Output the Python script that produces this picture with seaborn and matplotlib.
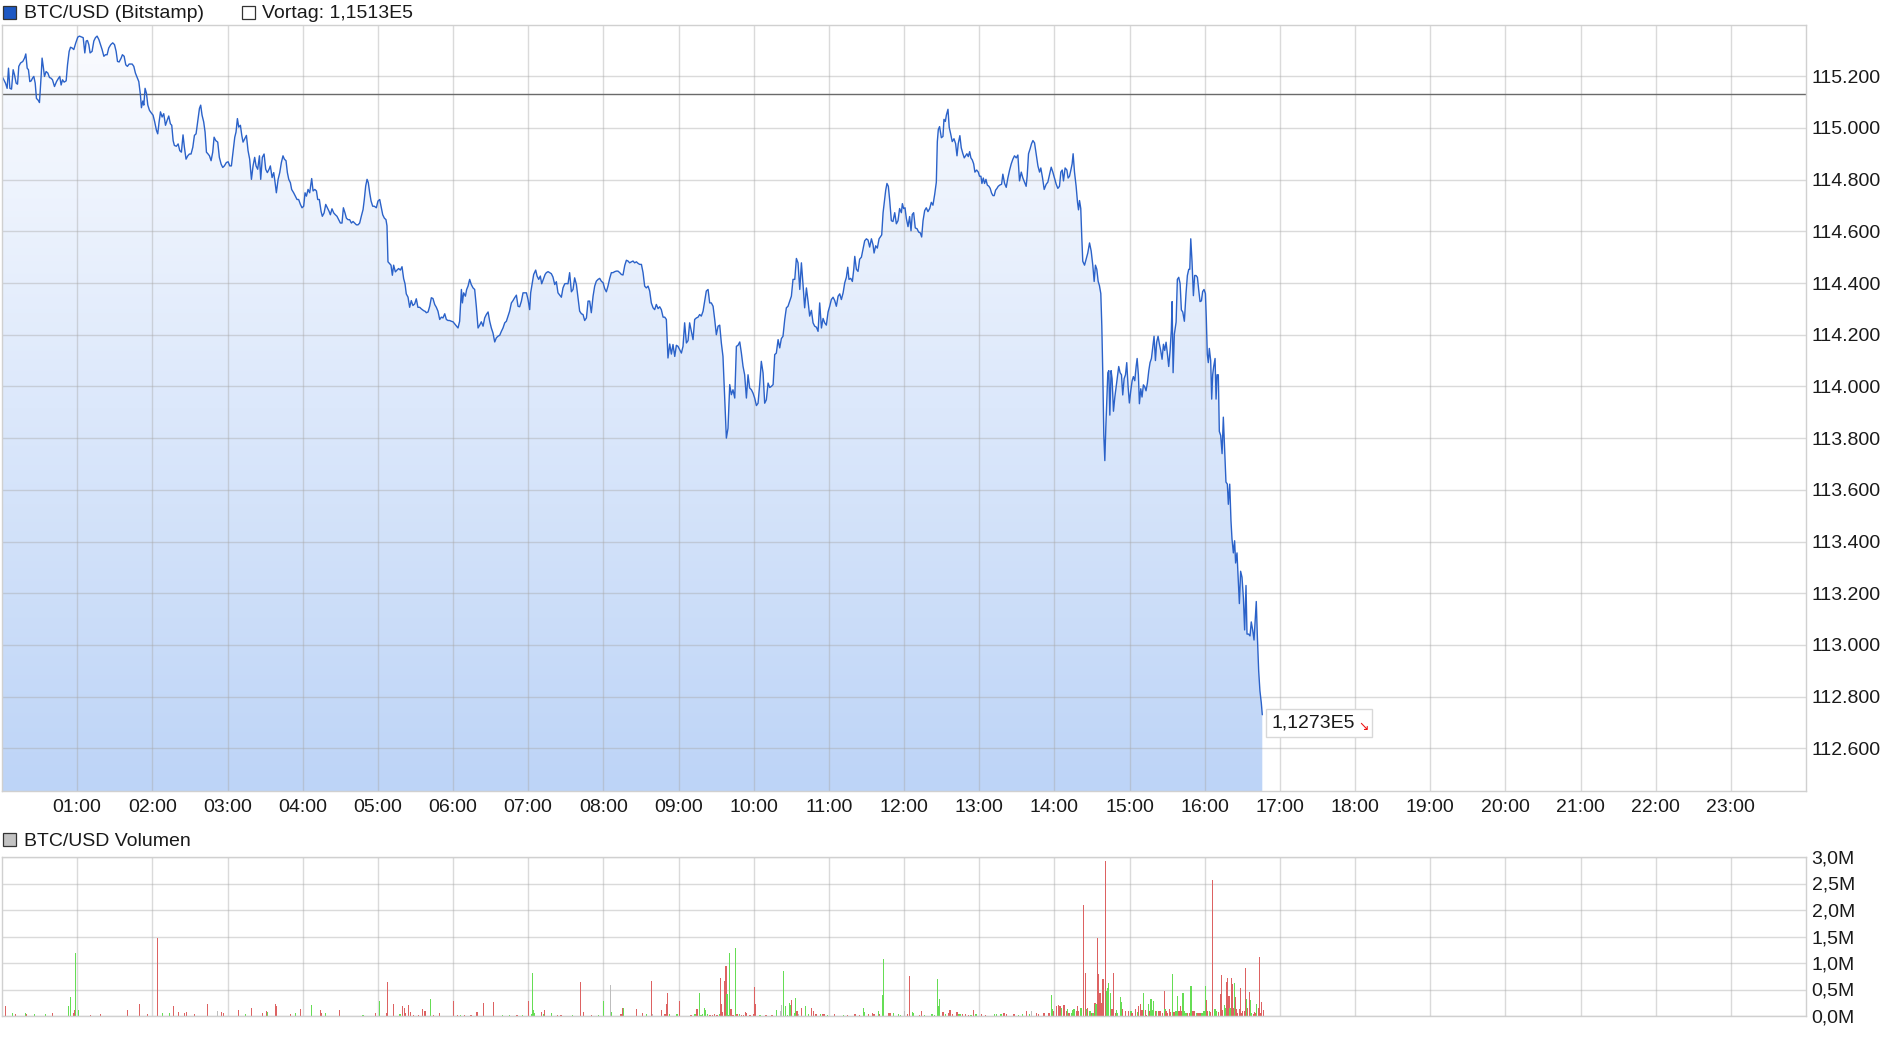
import numpy as np
import pandas as pd
import matplotlib
matplotlib.use("Agg")
import matplotlib.pyplot as plt
import seaborn as sns
from matplotlib.colors import LinearSegmentedColormap
from matplotlib.patches import Rectangle
from matplotlib.transforms import IdentityTransform

# BTC/USD (Bitstamp) intraday, minutes after midnight -> price in USD
btc_ticks = [
    (0.0, 115200), (2.8, 115173), (4.1, 115153), (5.2, 115231), (6.3, 115153), (7.6, 115150),
    (8.9, 115225), (10.0, 115205), (11.3, 115173), (12.4, 115169), (13.4, 115238), (14.8, 115251),
    (16.6, 115257), (18.0, 115270), (19.0, 115286), (20.1, 115231), (21.1, 115225), (22.2, 115179),
    (23.3, 115182), (24.3, 115192), (25.4, 115199), (26.5, 115173), (27.5, 115114), (28.9, 115107),
    (29.9, 115098), (31.3, 115205), (32.0, 115270), (33.1, 115231), (33.9, 115199), (35.2, 115218),
    (36.6, 115212), (37.9, 115195), (39.2, 115192), (40.3, 115186), (41.9, 115160), (43.5, 115179),
    (45.1, 115192), (46.1, 115199), (47.2, 115166), (48.3, 115186), (49.6, 115177), (51.2, 115182),
    (52.3, 115244), (53.6, 115296), (54.7, 115312), (56.0, 115309), (57.3, 115303), (58.9, 115329),
    (60.5, 115351), (61.8, 115355), (63.2, 115352), (64.8, 115349), (66.1, 115290), (67.2, 115336),
    (68.2, 115338), (69.3, 115322), (70.3, 115290), (71.9, 115296), (73.3, 115336), (74.6, 115349),
    (75.9, 115355), (77.3, 115342), (78.6, 115322), (79.9, 115303), (81.3, 115277), (82.6, 115283),
    (83.9, 115283), (85.2, 115309), (86.8, 115322), (88.4, 115329), (89.8, 115322), (91.1, 115296),
    (92.2, 115257), (93.5, 115255), (95.1, 115270), (96.1, 115283), (97.5, 115277), (98.8, 115244),
    (100.1, 115238), (101.5, 115247), (103.9, 115247), (105.2, 115238), (106.5, 115212), (107.9, 115195),
    (109.2, 115179), (110.5, 115127), (111.3, 115078), (112.4, 115104), (113.2, 115088), (114.2, 115153),
    (115.3, 115134), (116.4, 115088), (117.7, 115068), (119.0, 115059), (120.6, 115049), (121.9, 115023),
    (123.3, 114990), (124.3, 114977), (125.4, 115023), (126.5, 115062), (127.8, 115042), (129.1, 115055),
    (130.5, 115010), (131.8, 115029), (133.1, 115046), (134.4, 115016), (135.5, 115010), (136.6, 114951),
    (137.6, 114932), (139.2, 114929), (140.6, 114938), (141.9, 114912), (143.2, 114906), (144.5, 114973),
    (145.6, 114925), (146.9, 114879), (148.3, 114892), (149.6, 114899), (150.9, 114899), (152.3, 114925),
    (153.6, 114971), (154.9, 114977), (156.3, 115029), (157.6, 115075), (158.6, 115088), (159.7, 115049),
    (161.0, 115023), (162.1, 114984), (163.2, 114906), (164.5, 114899), (165.6, 114892), (166.9, 114873),
    (168.2, 114906), (169.3, 114964), (170.6, 114951), (172.2, 114945), (173.5, 114886), (174.9, 114860),
    (176.2, 114847), (177.5, 114853), (179.1, 114866), (180.5, 114869), (181.8, 114853), (183.1, 114853),
    (184.4, 114906), (185.8, 114964), (186.8, 114984), (187.9, 115036), (189.0, 115003), (190.3, 115010),
    (191.4, 114971), (192.4, 114945), (193.8, 114958), (195.1, 114971), (196.4, 114912), (197.7, 114879),
    (199.1, 114801), (200.4, 114853), (201.7, 114886), (202.8, 114853), (204.1, 114840), (205.5, 114892),
    (206.5, 114801), (207.8, 114886), (209.2, 114899), (210.5, 114840), (211.8, 114827), (213.2, 114840),
    (214.2, 114853), (215.6, 114808), (216.9, 114827), (218.0, 114788), (219.0, 114749), (220.4, 114801),
    (221.7, 114827), (223.0, 114866), (224.3, 114892), (225.4, 114879), (226.7, 114873), (227.8, 114827),
    (228.9, 114801), (230.2, 114788), (231.2, 114762), (232.8, 114749), (234.2, 114736), (235.5, 114723),
    (236.8, 114723), (238.2, 114704), (239.5, 114691), (240.8, 114697), (241.9, 114749), (243.0, 114736),
    (244.3, 114762), (245.6, 114749), (247.2, 114804), (248.3, 114756), (249.7, 114762), (251.0, 114756),
    (252.0, 114723), (253.3, 114723), (254.7, 114677), (255.7, 114658), (257.1, 114671), (258.4, 114704),
    (259.7, 114691), (261.1, 114677), (262.1, 114664), (263.4, 114687), (264.8, 114671), (266.1, 114664),
    (267.4, 114658), (268.8, 114645), (270.1, 114632), (271.4, 114632), (272.5, 114691), (273.8, 114671),
    (274.9, 114651), (276.2, 114645), (277.5, 114645), (278.9, 114632), (280.2, 114638), (281.5, 114632),
    (282.9, 114625), (284.2, 114625), (285.5, 114632), (286.8, 114658), (288.2, 114684), (289.2, 114723),
    (290.3, 114775), (291.4, 114801), (292.4, 114788), (293.5, 114749), (294.6, 114717), (295.9, 114697),
    (297.2, 114697), (298.8, 114691), (300.1, 114717), (301.5, 114723), (302.8, 114691), (303.9, 114664),
    (305.2, 114651), (306.5, 114645), (307.3, 114621), (308.1, 114482), (309.2, 114476), (310.5, 114469),
    (311.6, 114430), (312.6, 114469), (314.0, 114443), (315.3, 114450), (316.6, 114456), (318.0, 114450),
    (319.3, 114463), (320.6, 114417), (321.7, 114397), (322.7, 114358), (324.1, 114345), (325.4, 114306),
    (326.7, 114332), (328.0, 114313), (329.4, 114319), (330.7, 114339), (332.0, 114306), (333.4, 114306),
    (334.7, 114300), (336.6, 114293), (337.9, 114290), (338.7, 114285), (340.1, 114288), (341.4, 114310),
    (342.7, 114343), (344.0, 114340), (345.4, 114317), (346.7, 114306), (348.0, 114291), (349.4, 114259),
    (350.7, 114268), (352.0, 114265), (353.4, 114281), (354.7, 114259), (356.0, 114255), (357.3, 114255),
    (358.7, 114252), (360.0, 114250), (361.3, 114242), (362.7, 114233), (364.0, 114226), (365.3, 114252),
    (366.7, 114375), (367.5, 114323), (368.5, 114362), (369.9, 114349), (370.9, 114375), (372.0, 114388),
    (373.3, 114414), (374.6, 114394), (376.0, 114381), (377.3, 114375), (378.6, 114310), (380.0, 114226),
    (381.3, 114237), (382.6, 114250), (384.0, 114233), (385.3, 114265), (386.6, 114278), (388.0, 114288),
    (389.3, 114252), (390.6, 114226), (391.9, 114207), (393.3, 114172), (394.6, 114188), (395.9, 114194),
    (397.3, 114198), (398.6, 114213), (399.9, 114226), (401.3, 114246), (402.6, 114252), (403.9, 114272),
    (405.2, 114291), (406.6, 114323), (407.9, 114332), (409.2, 114343), (410.6, 114353), (411.9, 114310),
    (413.2, 114308), (414.6, 114330), (415.9, 114362), (417.2, 114362), (418.6, 114362), (419.9, 114336),
    (421.2, 114297), (422.0, 114362), (423.3, 114401), (424.4, 114433), (426.0, 114450), (427.1, 114427),
    (428.4, 114414), (429.7, 114427), (430.8, 114397), (432.1, 114414), (433.5, 114433), (434.5, 114440),
    (435.9, 114444), (437.2, 114440), (438.5, 114436), (439.8, 114423), (441.2, 114394), (442.5, 114405),
    (443.8, 114362), (445.2, 114353), (446.5, 114345), (447.8, 114381), (449.2, 114397), (450.5, 114398),
    (451.8, 114397), (453.1, 114440), (454.5, 114366), (455.8, 114375), (457.1, 114420), (458.5, 114394),
    (459.8, 114343), (461.1, 114291), (462.5, 114281), (463.8, 114278), (465.1, 114255), (466.5, 114265),
    (467.8, 114330), (469.1, 114330), (470.4, 114285), (471.8, 114349), (473.1, 114388), (474.4, 114407),
    (475.8, 114414), (477.1, 114418), (478.4, 114407), (479.8, 114401), (481.1, 114378), (482.4, 114366),
    (483.7, 114388), (485.1, 114418), (486.4, 114440), (487.7, 114440), (489.1, 114444), (490.4, 114446),
    (491.7, 114446), (493.1, 114440), (494.4, 114433), (495.7, 114431), (497.1, 114468), (498.4, 114488),
    (499.7, 114485), (501.0, 114478), (502.4, 114482), (503.7, 114485), (505.0, 114478), (506.4, 114482),
    (507.7, 114476), (509.0, 114472), (510.4, 114472), (511.7, 114440), (513.0, 114388), (514.3, 114381),
    (515.7, 114388), (517.0, 114369), (518.3, 114323), (519.7, 114304), (521.0, 114297), (522.3, 114317),
    (523.7, 114301), (525.0, 114308), (526.3, 114297), (527.7, 114268), (529.0, 114268), (530.3, 114259),
    (531.6, 114110), (533.0, 114164), (534.3, 114125), (535.6, 114162), (537.0, 114116), (538.3, 114159),
    (539.6, 114155), (541.0, 114142), (542.3, 114129), (543.6, 114155), (544.9, 114246), (546.3, 114168),
    (547.6, 114177), (548.9, 114246), (550.3, 114213), (551.6, 114181), (552.9, 114259), (554.3, 114265),
    (555.6, 114268), (556.9, 114278), (558.2, 114272), (559.6, 114291), (560.9, 114330), (562.2, 114369),
    (563.6, 114375), (564.9, 114323), (566.2, 114323), (567.6, 114310), (568.9, 114259), (570.2, 114200),
    (571.6, 114233), (572.9, 114237), (574.2, 114168), (575.5, 114116), (576.9, 113955), (578.2, 113800),
    (579.5, 113838), (580.9, 114007), (582.2, 113968), (583.5, 113987), (584.9, 113955), (586.2, 114155),
    (587.5, 114159), (588.9, 114172), (590.2, 114129), (591.5, 114078), (592.8, 114045), (594.2, 113955),
    (595.5, 114045), (596.8, 113994), (598.2, 113987), (599.5, 113974), (600.8, 113955), (602.2, 113926),
    (603.5, 113935), (604.8, 114007), (606.1, 114097), (607.5, 114052), (608.8, 113935), (610.1, 113948),
    (611.5, 114013), (612.8, 113996), (614.1, 114000), (615.5, 114007), (616.8, 114123), (618.1, 114129),
    (619.5, 114181), (620.8, 114149), (622.1, 114185), (623.4, 114194), (624.8, 114259), (626.1, 114304),
    (627.4, 114310), (628.8, 114330), (630.1, 114349), (631.4, 114414), (632.8, 114414), (634.1, 114495),
    (635.4, 114478), (636.8, 114375), (638.1, 114478), (639.4, 114394), (640.7, 114304), (642.1, 114381),
    (643.4, 114330), (644.7, 114272), (646.1, 114294), (647.4, 114246), (648.7, 114233), (650.1, 114229),
    (651.4, 114213), (652.7, 114323), (654.1, 114226), (655.4, 114263), (656.7, 114246), (658.0, 114237),
    (659.4, 114288), (660.7, 114310), (662.0, 114336), (663.4, 114345), (664.7, 114332), (666.0, 114310),
    (667.4, 114349), (668.7, 114358), (670.0, 114336), (671.4, 114362), (672.7, 114401), (674.0, 114422),
    (675.1, 114461), (676.1, 114414), (677.5, 114418), (678.8, 114406), (679.9, 114453), (680.7, 114503),
    (682.0, 114453), (683.3, 114445), (684.6, 114492), (686.0, 114500), (687.3, 114531), (688.6, 114563),
    (690.0, 114571), (691.3, 114566), (692.6, 114539), (694.0, 114571), (695.3, 114547), (696.1, 114516),
    (697.4, 114544), (698.7, 114535), (700.1, 114571), (701.1, 114578), (702.2, 114586), (703.3, 114672),
    (704.3, 114712), (705.4, 114759), (706.4, 114785), (707.5, 114774), (708.6, 114719), (709.9, 114641),
    (711.2, 114638), (712.6, 114672), (713.9, 114629), (715.2, 114641), (716.5, 114688), (717.9, 114672),
    (718.7, 114707), (719.7, 114688), (720.8, 114691), (721.9, 114649), (723.2, 114618), (724.5, 114657),
    (725.6, 114602), (726.6, 114665), (727.7, 114672), (729.0, 114613), (730.4, 114610), (731.7, 114597),
    (733.0, 114594), (734.1, 114578), (735.2, 114641), (736.5, 114680), (737.8, 114691), (739.1, 114676),
    (740.5, 114688), (741.8, 114712), (743.1, 114701), (744.5, 114743), (745.8, 114790), (746.6, 114947),
    (747.4, 114994), (748.4, 115005), (749.8, 114962), (751.1, 114967), (751.9, 115033), (753.0, 115025),
    (753.8, 115049), (755.1, 115072), (756.1, 115002), (757.2, 114978), (758.5, 114947), (759.9, 114958),
    (761.2, 114939), (762.3, 114892), (763.3, 114939), (764.6, 114970), (765.7, 114923), (767.0, 114900),
    (768.1, 114884), (769.2, 114892), (770.2, 114900), (771.3, 114889), (772.4, 114908), (773.4, 114884),
    (774.5, 114876), (775.6, 114861), (776.6, 114829), (778.0, 114837), (779.3, 114829), (780.3, 114813),
    (781.4, 114813), (782.2, 114785), (783.3, 114806), (784.3, 114785), (785.4, 114801), (786.5, 114779),
    (787.8, 114774), (788.8, 114766), (789.9, 114748), (791.0, 114738), (792.0, 114738), (793.1, 114759),
    (794.2, 114766), (795.2, 114774), (796.5, 114779), (797.9, 114782), (798.9, 114821), (800.3, 114785),
    (801.6, 114770), (802.9, 114806), (804.3, 114837), (805.6, 114861), (806.9, 114879), (808.2, 114892),
    (809.6, 114884), (810.9, 114895), (812.2, 114795), (813.6, 114829), (814.9, 114806), (816.2, 114790),
    (817.5, 114774), (818.3, 114813), (819.4, 114900), (820.7, 114920), (821.8, 114939), (822.9, 114951),
    (824.2, 114942), (825.5, 114900), (826.9, 114853), (828.2, 114829), (829.2, 114845), (830.6, 114806),
    (831.9, 114762), (833.5, 114782), (834.8, 114790), (836.2, 114821), (837.5, 114848), (838.8, 114829),
    (840.1, 114806), (841.5, 114782), (842.8, 114766), (844.1, 114774), (845.2, 114829), (846.3, 114837),
    (847.3, 114795), (848.6, 114845), (850.0, 114837), (851.0, 114806), (852.1, 114813), (853.2, 114837),
    (854.2, 114861), (855.0, 114900), (856.1, 114829), (857.4, 114774), (858.5, 114712), (859.3, 114683),
    (860.1, 114719), (861.1, 114688), (861.9, 114578), (862.7, 114484), (864.1, 114469), (865.4, 114492),
    (866.7, 114516), (868.1, 114555), (869.4, 114524), (870.7, 114469), (871.8, 114406), (872.8, 114469),
    (873.9, 114453), (875.0, 114406), (876.0, 114390), (877.1, 114359), (877.9, 114234), (878.7, 114045),
    (879.5, 113810), (880.3, 113713), (881.1, 113842), (881.9, 113951), (882.7, 114053), (883.5, 114061),
    (884.3, 113889), (885.3, 114061), (886.1, 114030), (887.2, 113904), (888.3, 113959), (889.3, 113998),
    (890.4, 114038), (891.4, 114077), (892.5, 114053), (893.6, 114045), (894.6, 113967), (895.7, 114030),
    (896.8, 114045), (897.8, 114092), (898.9, 113998), (899.9, 113936), (901.0, 113983), (902.1, 114022),
    (903.1, 114038), (904.2, 114022), (905.3, 114077), (906.1, 114108), (907.1, 114045), (907.9, 113933),
    (909.0, 113991), (910.0, 113959), (911.1, 114006), (912.2, 113998), (913.2, 113983), (914.3, 114014),
    (915.4, 114061), (916.4, 114092), (917.5, 114108), (918.6, 114155), (919.6, 114194), (920.7, 114100),
    (921.7, 114171), (922.8, 114194), (923.9, 114163), (924.9, 114139), (926.0, 114105), (927.1, 114163),
    (928.1, 114139), (929.2, 114171), (930.3, 114124), (931.3, 114077), (932.4, 114139), (933.4, 114218),
    (934.0, 114328), (934.8, 114053), (935.8, 114202), (937.2, 114249), (938.2, 114414), (939.3, 114422),
    (940.4, 114398), (941.4, 114296), (942.5, 114288), (943.8, 114252), (945.1, 114359), (946.2, 114429),
    (947.3, 114453), (948.1, 114453), (948.9, 114571), (949.9, 114484), (951.0, 114351), (952.0, 114429),
    (953.1, 114429), (954.2, 114422), (955.2, 114375), (956.3, 114328), (957.4, 114331), (958.4, 114367),
    (959.5, 114375), (960.6, 114359), (961.3, 114265), (962.1, 114124), (962.9, 114092), (963.7, 114147),
    (964.8, 114100), (965.6, 113951), (966.4, 114045), (967.2, 114077), (968.3, 114108), (969.1, 113951),
    (969.9, 114045), (970.9, 114045), (971.7, 113826), (972.8, 113810), (973.9, 113740), (974.9, 113881),
    (976.0, 113748), (977.0, 113630), (978.1, 113622), (978.9, 113544), (980.0, 113622), (981.0, 113481),
    (981.8, 113411), (982.9, 113356), (983.9, 113403), (984.7, 113317), (985.8, 113356), (986.6, 113277),
    (987.7, 113160), (988.7, 113285), (989.8, 113262), (990.9, 113183), (991.9, 113058), (993.0, 113230),
    (993.8, 113042), (995.1, 113042), (996.2, 113035), (997.2, 113089), (998.3, 113058), (999.4, 113019),
    (1000.4, 113105), (1001.2, 113168), (1002.0, 113042), (1003.1, 112901), (1004.1, 112823),
    (1005.2, 112776), (1006.0, 112730),
]

prev_close = 115130
last_label = "1,1273E5"
prev_label = "Vortag: 1,1513E5"

# volume bars: minute, volume in millions, direction (u = up, d = down, n = unchanged)
volume_bars = [
    (2.8, 0.18, "d"), (8.1, 0.06, "u"), (10.8, 0.04, "d"), (18.8, 0.06, "u"), (19.6, 0.04, "d"),
    (25.9, 0.04, "u"), (34.7, 0.04, "u"), (40.6, 0.06, "d"), (53.3, 0.18, "u"), (54.7, 0.36, "u"),
    (56.8, 0.06, "d"), (57.9, 0.11, "d"), (58.9, 1.19, "u"), (61.0, 0.11, "u"), (70.6, 0.02, "d"),
    (78.6, 0.04, "d"), (100.4, 0.11, "d"), (110.0, 0.23, "d"), (115.8, 0.04, "d"), (123.8, 1.48, "d"),
    (128.3, 0.06, "u"), (133.9, 0.06, "u"), (137.1, 0.18, "d"), (141.1, 0.08, "d"), (145.9, 0.06, "d"),
    (147.2, 0.07, "d"), (153.9, 0.04, "d"), (163.7, 0.23, "d"), (171.7, 0.10, "n"), (174.9, 0.08, "d"),
    (176.5, 0.06, "d"), (189.0, 0.11, "d"), (194.3, 0.04, "u"), (199.4, 0.15, "d"), (207.6, 0.06, "d"),
    (210.8, 0.10, "d"), (211.6, 0.07, "u"), (218.5, 0.23, "d"), (219.3, 0.18, "d"), (230.2, 0.03, "d"),
    (234.2, 0.05, "u"), (238.5, 0.13, "d"), (247.2, 0.21, "u"), (254.2, 0.11, "d"), (255.2, 0.06, "d"),
    (257.9, 0.06, "u"), (269.6, 0.11, "d"), (288.2, 0.02, "u"), (298.3, 0.06, "d"), (301.5, 0.28, "u"),
    (306.8, 0.06, "d"), (307.6, 0.64, "d"), (312.7, 0.23, "d"), (317.2, 0.04, "u"), (318.0, 0.04, "u"),
    (319.8, 0.19, "d"), (321.4, 0.16, "d"), (322.2, 0.05, "d"), (324.6, 0.21, "d"), (326.2, 0.07, "d"),
    (328.6, 0.01, "d"), (332.3, 0.01, "d"), (335.8, 0.13, "d"), (337.6, 0.09, "d"), (342.2, 0.32, "u"),
    (344.6, 0.01, "d"), (349.4, 0.05, "d"), (360.5, 0.28, "d"), (363.7, 0.01, "d"), (365.9, 0.02, "u"),
    (369.0, 0.01, "d"), (374.4, 0.01, "d"), (379.2, 0.07, "d"), (379.7, 0.04, "d"), (384.5, 0.25, "d"),
    (392.5, 0.26, "d"), (399.6, 0.02, "u"), (405.0, 0.02, "u"), (411.1, 0.02, "d"), (415.6, 0.02, "u"),
    (420.4, 0.28, "d"), (422.8, 0.04, "u"), (423.6, 0.81, "u"), (424.4, 0.11, "u"), (425.2, 0.06, "u"),
    (430.8, 0.07, "d"), (432.1, 0.04, "u"), (433.2, 0.11, "d"), (438.8, 0.05, "u"), (443.6, 0.01, "d"),
    (446.2, 0.01, "d"), (455.5, 0.01, "u"), (461.9, 0.64, "d"), (464.3, 0.07, "d"), (470.7, 0.01, "d"),
    (476.0, 0.01, "u"), (480.3, 0.28, "u"), (485.9, 0.58, "n"), (486.7, 0.07, "u"), (494.1, 0.04, "d"),
    (495.7, 0.15, "d"), (496.2, 0.15, "u"), (506.6, 0.13, "d"), (511.4, 0.06, "d"), (514.6, 0.03, "u"),
    (518.6, 0.66, "d"), (519.4, 0.03, "n"), (526.6, 0.11, "d"), (529.2, 0.04, "d"), (530.3, 0.23, "d"),
    (531.4, 0.43, "d"), (533.0, 0.04, "u"), (538.8, 0.04, "u"), (540.9, 0.28, "d"), (550.0, 0.01, "d"),
    (552.7, 0.04, "u"), (553.7, 0.04, "u"), (554.8, 0.14, "d"), (556.6, 0.43, "u"), (558.0, 0.02, "u"),
    (559.0, 0.04, "u"), (560.9, 0.16, "u"), (561.7, 0.11, "u"), (563.0, 0.04, "u"), (565.1, 0.01, "d"),
    (567.3, 0.01, "d"), (568.9, 0.04, "d"), (570.7, 0.02, "d"), (573.1, 0.04, "u"), (573.7, 0.72, "d"),
    (574.5, 0.23, "d"), (575.3, 0.07, "d"), (577.1, 0.66, "d"), (577.9, 0.94, "d"), (578.7, 0.42, "u"),
    (579.5, 0.02, "u"), (580.8, 1.19, "u"), (581.9, 0.13, "d"), (583.5, 0.01, "d"), (585.6, 1.28, "u"),
    (586.7, 0.03, "d"), (588.6, 0.04, "u"), (590.4, 0.02, "d"), (592.0, 0.02, "d"), (593.3, 0.07, "d"),
    (594.4, 0.05, "d"), (597.1, 0.01, "d"), (600.0, 0.04, "d"), (600.8, 0.55, "d"), (601.6, 0.23, "d"),
    (605.1, 0.01, "u"), (609.8, 0.01, "d"), (614.6, 0.01, "d"), (618.4, 0.11, "u"), (621.8, 0.09, "n"),
    (622.4, 0.21, "n"), (623.9, 0.85, "u"), (625.5, 0.19, "u"), (627.1, 0.02, "u"), (628.7, 0.25, "u"),
    (629.5, 0.21, "u"), (630.3, 0.30, "d"), (632.5, 0.06, "u"), (633.5, 0.34, "u"), (634.6, 0.09, "d"),
    (635.9, 0.03, "n"), (638.3, 0.15, "d"), (641.5, 0.19, "u"), (643.9, 0.03, "u"), (646.3, 0.15, "d"),
    (647.9, 0.09, "d"), (649.8, 0.04, "d"), (653.0, 0.03, "u"), (655.3, 0.03, "d"), (656.7, 0.03, "d"),
    (658.8, 0.01, "u"), (664.7, 0.03, "d"), (671.8, 0.01, "u"), (675.0, 0.01, "d"), (680.9, 0.04, "d"),
    (684.6, 0.01, "d"), (687.8, 0.15, "u"), (688.6, 0.07, "u"), (691.8, 0.03, "d"), (695.0, 0.06, "d"),
    (696.1, 0.04, "d"), (699.8, 0.09, "u"), (700.6, 0.04, "d"), (703.0, 0.40, "u"), (703.8, 1.07, "u"),
    (707.5, 0.06, "d"), (708.8, 0.06, "d"), (711.8, 0.06, "u"), (715.8, 0.03, "u"), (717.3, 0.02, "u"),
    (720.5, 0.09, "n"), (722.9, 0.03, "d"), (724.5, 0.75, "d"), (726.9, 0.07, "u"), (727.7, 0.06, "u"),
    (732.3, 0.02, "d"), (734.1, 0.09, "d"), (736.2, 0.02, "u"), (742.4, 0.03, "u"), (744.2, 0.02, "u"),
    (746.9, 0.70, "u"), (747.7, 0.19, "u"), (748.5, 0.32, "u"), (750.6, 0.07, "d"), (751.7, 0.07, "d"),
    (753.0, 0.04, "u"), (755.7, 0.06, "d"), (756.7, 0.11, "d"), (758.9, 0.03, "d"), (762.3, 0.07, "d"),
    (763.6, 0.04, "u"), (764.7, 0.04, "u"), (766.8, 0.04, "d"), (769.0, 0.03, "d"), (771.6, 0.02, "d"),
    (773.5, 0.01, "u"), (775.6, 0.11, "d"), (777.5, 0.03, "u"), (782.0, 0.04, "d"), (784.9, 0.01, "d"),
    (792.1, 0.04, "u"), (793.5, 0.04, "u"), (797.4, 0.03, "u"), (798.0, 0.03, "u"), (799.8, 0.05, "d"),
    (802.0, 0.03, "d"), (807.8, 0.03, "d"), (811.3, 0.01, "u"), (814.7, 0.03, "u"), (817.9, 0.09, "d"),
    (820.0, 0.03, "u"), (821.9, 0.10, "n"), (825.9, 0.05, "d"), (827.5, 0.03, "d"), (831.2, 0.05, "d"),
    (832.0, 0.05, "d"), (835.2, 0.06, "d"), (836.3, 0.05, "d"), (837.6, 0.39, "u"), (838.4, 0.13, "u"),
    (839.5, 0.09, "d"), (841.9, 0.19, "d"), (843.5, 0.20, "d"), (844.5, 0.19, "d"), (845.9, 0.15, "u"),
    (847.2, 0.20, "d"), (848.0, 0.20, "d"), (849.8, 0.10, "d"), (850.6, 0.13, "u"), (851.7, 0.05, "d"),
    (853.6, 0.05, "u"), (854.6, 0.11, "u"), (855.7, 0.13, "u"), (857.6, 0.10, "d"), (858.4, 0.18, "d"),
    (859.4, 0.09, "d"), (861.0, 0.16, "u"), (861.8, 0.16, "u"), (863.1, 2.09, "d"), (864.7, 0.82, "d"),
    (865.8, 0.13, "u"), (866.6, 0.16, "d"), (868.5, 0.09, "u"), (869.8, 0.06, "d"), (870.9, 0.06, "u"),
    (872.5, 0.25, "d"), (873.3, 0.23, "u"), (874.3, 1.47, "d"), (875.1, 0.79, "d"), (876.5, 0.44, "d"),
    (877.3, 0.25, "d"), (878.6, 0.70, "d"), (879.4, 0.70, "d"), (880.7, 2.92, "d"), (881.5, 0.47, "u"),
    (882.3, 0.52, "u"), (883.1, 0.62, "u"), (884.7, 0.44, "u"), (885.5, 0.14, "d"), (886.3, 0.14, "d"),
    (887.1, 0.82, "d"), (888.7, 0.05, "d"), (889.8, 0.11, "u"), (890.6, 0.06, "u"), (892.7, 0.36, "u"),
    (893.5, 0.27, "u"), (894.6, 0.14, "d"), (896.7, 0.09, "d"), (899.1, 0.09, "d"), (901.2, 0.09, "u"),
    (902.0, 0.06, "d"), (904.7, 0.14, "d"), (906.3, 0.07, "u"), (907.3, 0.19, "d"), (908.7, 0.22, "d"),
    (910.0, 0.11, "d"), (911.0, 0.44, "u"), (912.6, 0.11, "d"), (913.7, 0.01, "d"), (915.0, 0.22, "u"),
    (916.4, 0.10, "d"), (917.2, 0.33, "u"), (918.2, 0.11, "u"), (919.0, 0.28, "u"), (920.6, 0.10, "d"),
    (921.4, 0.09, "u"), (923.0, 0.09, "d"), (923.8, 0.09, "d"), (924.9, 0.10, "d"), (926.2, 0.05, "d"),
    (927.8, 0.47, "d"), (928.3, 0.14, "u"), (929.1, 0.09, "d"), (930.5, 0.06, "d"), (931.8, 0.14, "d"),
    (932.9, 0.08, "d"), (934.2, 0.80, "u"), (935.5, 0.07, "d"), (936.6, 0.10, "u"), (937.4, 0.10, "u"),
    (938.2, 0.37, "u"), (939.5, 0.10, "d"), (940.6, 0.19, "d"), (941.4, 0.10, "d"), (942.7, 0.43, "u"),
    (943.8, 0.09, "u"), (945.1, 0.06, "u"), (946.2, 0.05, "d"), (947.8, 0.06, "d"), (949.1, 0.56, "u"),
    (950.2, 0.09, "d"), (951.5, 0.09, "d"), (953.4, 0.06, "u"), (954.7, 0.06, "d"), (956.3, 0.05, "d"),
    (957.1, 0.05, "d"), (957.9, 0.06, "u"), (959.5, 0.09, "u"), (960.5, 0.56, "u"), (961.3, 0.31, "d"),
    (962.1, 0.09, "d"), (964.0, 0.10, "u"), (964.8, 0.07, "d"), (966.1, 2.56, "d"), (967.7, 0.14, "u"),
    (968.5, 0.14, "u"), (969.6, 0.09, "u"), (970.9, 0.07, "d"), (972.3, 0.41, "d"), (973.1, 0.77, "d"),
    (974.1, 0.11, "d"), (975.7, 0.20, "u"), (976.5, 0.16, "u"), (977.6, 0.65, "d"), (978.4, 0.71, "d"),
    (979.4, 0.37, "d"), (980.2, 0.16, "u"), (981.3, 0.71, "d"), (982.1, 0.60, "d"), (982.9, 0.16, "d"),
    (983.9, 0.62, "u"), (984.8, 0.35, "d"), (985.6, 0.14, "d"), (986.4, 0.05, "d"), (987.7, 0.13, "d"),
    (988.5, 0.52, "d"), (989.5, 0.06, "d"), (990.3, 0.10, "d"), (991.7, 0.10, "d"), (992.5, 0.90, "d"),
    (993.3, 0.33, "u"), (994.1, 0.16, "d"), (995.7, 0.45, "d"), (996.5, 0.30, "u"), (997.3, 0.06, "u"),
    (998.9, 0.03, "d"), (999.7, 0.07, "d"), (1000.5, 0.06, "d"), (1001.3, 0.22, "u"), (1002.9, 0.16, "d"),
    (1003.7, 1.11, "d"), (1004.5, 0.06, "d"), (1005.2, 0.26, "d"), (1006.8, 0.11, "d"),
]

hour_ticks = list(range(60, 1440, 60))
hour_labels = [f"{h:02d}:00" for h in range(1, 24)]
price_ticks = list(range(112600, 115201, 200))
volume_ticks = [0.0, 0.5, 1.0, 1.5, 2.0, 2.5, 3.0]

price_df = pd.DataFrame(btc_ticks, columns=["minute", "price"])
vol_df = pd.DataFrame(volume_bars, columns=["minute", "volume", "direction"])
dir_colors = {"u": "#66dd55", "d": "#dd6262", "n": "#bdbdbd"}

sns.set_style("white")
plt.rcParams["font.family"] = ["Liberation Sans", "DejaVu Sans"]
plt.rcParams["text.color"] = "#1a1a1a"

W, H = 1880, 1037
FS = 14
fig = plt.figure(figsize=(W / 100, H / 100), dpi=100)
ax = fig.add_axes([2 / W, 1 - 791 / H, 1804 / W, 766 / H])
axv = fig.add_axes([2 / W, 1 - 1016 / H, 1804 / W, 159 / H])

ymin, ymax = 112435, 115398
grid_kw = dict(color="#a8a8a8", alpha=0.42, linewidth=1.0)

# gradient area under the price line
cmap = LinearSegmentedColormap.from_list("area", ["#bdd4f7", "#fbfcff"])
grad = np.linspace(0, 1, 256).reshape(-1, 1)
im = ax.imshow(grad, cmap=cmap, origin="lower", aspect="auto",
               extent=(0, 1440, ymin, ymax), zorder=0.3)
area = ax.fill_between(price_df["minute"], price_df["price"], ymin, color="none", linewidth=0)
im.set_clip_path(area.get_paths()[0], transform=ax.transData)

ax.axhline(prev_close, color="#6a6a6a", linewidth=1.0, zorder=1.8)
sns.lineplot(data=price_df, x="minute", y="price", ax=ax, color="#2b62c9",
             linewidth=1.0, zorder=2)

ax.set_xlim(0, 1440)
ax.set_ylim(ymin, ymax)
ax.set_axisbelow(True)
ax.set_xticks(hour_ticks)
ax.set_xticklabels(hour_labels)
ax.set_yticks(price_ticks)
ax.set_yticklabels([f"{v / 1000:.3f}" for v in price_ticks])
ax.yaxis.tick_right()
ax.grid(True, **grid_kw)
ax.tick_params(axis="both", length=0, labelsize=FS, labelcolor="#1a1a1a")
ax.tick_params(axis="x", pad=5.5)
ax.tick_params(axis="y", pad=4.0)
ax.set_xlabel("")
ax.set_ylabel("")
for s in ax.spines.values():
    s.set_color("#d0d0d0")
    s.set_linewidth(1.0)

# volume panel
axv.bar(vol_df["minute"], vol_df["volume"], width=0.9,
        color=[dir_colors[d] for d in vol_df["direction"]], linewidth=0, zorder=2)
axv.set_xlim(0, 1440)
axv.set_ylim(0, 3.0)
axv.set_axisbelow(True)
axv.set_xticks(hour_ticks)
axv.set_xticklabels([])
axv.set_yticks(volume_ticks)
axv.set_yticklabels([f"{v:.1f}M".replace(".", ",") for v in volume_ticks])
axv.yaxis.tick_right()
axv.grid(True, **grid_kw)
axv.tick_params(axis="both", length=0, labelsize=FS, labelcolor="#1a1a1a")
axv.tick_params(axis="y", pad=4.0)
for s in axv.spines.values():
    s.set_color("#d0d0d0")
    s.set_linewidth(1.0)


# legends at the top of each panel
def legend_box(x, y, face):
    fig.patches.append(Rectangle((x / W, 1 - (y + 13) / H), 13 / W, 13 / H,
                                 transform=fig.transFigure, facecolor=face,
                                 edgecolor="#333333", linewidth=0.9))


legend_box(3, 6, "#1d58c4")
fig.text(24 / W, 1 - 13.5 / H, "BTC/USD (Bitstamp)", fontsize=FS, va="center", ha="left")
legend_box(242, 6, "white")
fig.text(262 / W, 1 - 13.5 / H, prev_label, fontsize=FS, va="center", ha="left")
legend_box(3, 833, "#c2c2c2")
fig.text(24 / W, 1 - 841 / H, "BTC/USD Volumen", fontsize=FS, va="center", ha="left")

# last price label
last_m, last_p = btc_ticks[-1]
px, py = ax.transData.transform((last_m, last_p))
ax.add_patch(Rectangle((px + 4, py - 22), 106, 28, transform=IdentityTransform(),
                       facecolor="white", edgecolor="#d8d8d8", linewidth=1.0, zorder=5,
                       clip_on=False))
ax.text(px + 9, py - 8, last_label, transform=IdentityTransform(), fontsize=FS,
        va="center", ha="left", zorder=6)
ax.text(px + 96, py - 12, "\u2198", transform=IdentityTransform(), fontsize=9,
        color="#ee1111", va="center", ha="left", zorder=6, family=["DejaVu Sans"])

fig.savefig("out.png", dpi=100)
